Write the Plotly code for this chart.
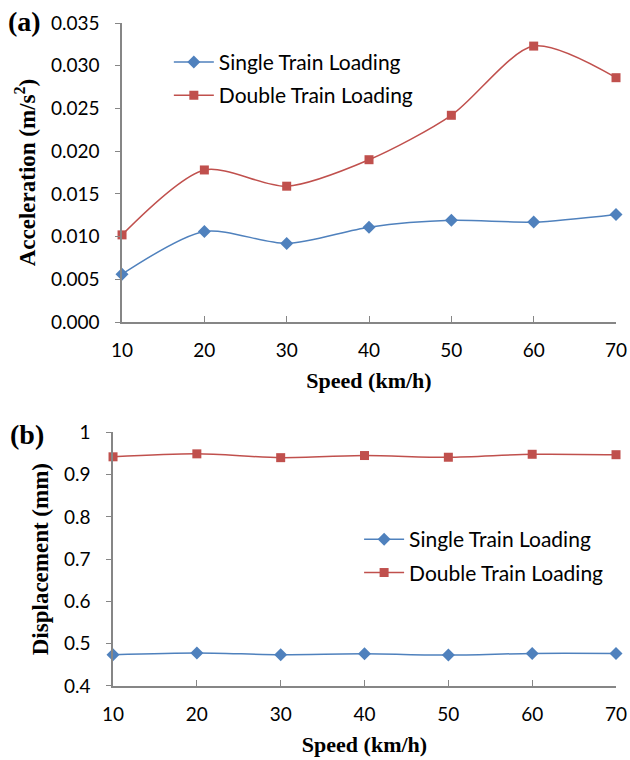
import plotly.graph_objects as go

# Train speed (km/h)
speed = [10, 20, 30, 40, 50, 60, 70]

# (a) peak acceleration (m/s^2)
accel_single = [0.0056, 0.0106, 0.0092, 0.0111, 0.0119, 0.0117, 0.0126]
accel_double = [0.0102, 0.0178, 0.0159, 0.0190, 0.0242, 0.0323, 0.0286]

# (b) peak displacement (mm)
disp_single = [0.474, 0.478, 0.474, 0.476, 0.473, 0.477, 0.477]
disp_double = [0.942, 0.949, 0.940, 0.945, 0.941, 0.948, 0.947]

names = ["Single Train Loading", "Double Train Loading"]
blue = "#4F81BD"
red = "#C0504D"
axis_grey = "#868686"
tick_font = dict(family="Lato, Open Sans, sans-serif", size=19, color="#000000")
xtitle_font = dict(family="Liberation Serif, Times New Roman, serif", size=22, color="#000000")
ytitle_font = dict(family="Liberation Serif, Times New Roman, serif", size=23, color="#000000")
legend_font = dict(family="Lato, Open Sans, sans-serif", size=21, color="#000000")
panel_font = dict(family="Liberation Serif, serif", size=28, color="#000000")

fig = go.Figure()


def add_series(y, name, color, symbol, msize, xa, ya, legend, group):
    fig.add_trace(go.Scatter(
        x=speed, y=y, name=name, mode="lines+markers",
        line=dict(color=color, width=1.5, shape="spline", smoothing=0.8),
        marker=dict(symbol=symbol, size=msize, color=color),
        xaxis=xa, yaxis=ya, legend=legend, legendgroup=group,
        cliponaxis=False, showlegend=True,
    ))


add_series(accel_single, names[0], blue, "diamond", 10, "x", "y", "legend", "a1")
add_series(accel_double, names[1], red, "square", 9, "x", "y", "legend", "a2")
add_series(disp_single, names[0], blue, "diamond", 10, "x2", "y2", "legend2", "b1")
add_series(disp_double, names[1], red, "square", 9, "x2", "y2", "legend2", "b2")

common_x = dict(
    range=[10, 70], dtick=10, tick0=10, showline=True, linecolor=axis_grey, linewidth=1.5,
    ticks="inside", ticklen=6, tickcolor=axis_grey, tickwidth=1.3, ticklabelstandoff=10,
    showgrid=False, zeroline=False, tickfont=tick_font, automargin=False,
)
common_y = dict(
    showline=True, linecolor=axis_grey, linewidth=1.5,
    ticks="outside", ticklen=5, tickcolor=axis_grey, tickwidth=1.3, ticklabelstandoff=12,
    showgrid=False, zeroline=False, tickfont=tick_font, automargin=False,
)

fig.update_layout(
    width=630, height=760, autosize=False,
    margin=dict(l=0, r=0, t=0, b=0, autoexpand=False),
    paper_bgcolor="white", plot_bgcolor="white",
    xaxis=dict(domain=[0.1937, 0.9778], anchor="y",
               title=dict(text="<b>Speed (km/h)</b>", font=xtitle_font, standoff=13),
               **common_x),
    yaxis=dict(domain=[0.5763, 0.9697], anchor="x", range=[0, 0.035], dtick=0.005,
               tickformat=".3f",
               title=dict(text="<b>Acceleration (m/s<sup>2</sup>)</b>", font=ytitle_font, standoff=9),
               **common_y),
    xaxis2=dict(domain=[0.1794, 0.9778], anchor="y2",
                title=dict(text="<b>Speed (km/h)</b>", font=xtitle_font, standoff=13),
                **common_x),
    yaxis2=dict(domain=[0.0974, 0.4312], anchor="x2", range=[0.4, 1.0], dtick=0.1,
                title=dict(text="<b>Displacement (mm)</b>", font=ytitle_font, standoff=9),
                **common_y),
    legend=dict(x=0.268, y=0.945, xanchor="left", yanchor="top", font=legend_font,
                bgcolor="rgba(0,0,0,0)", tracegroupgap=3, itemwidth=40),
    legend2=dict(x=0.57, y=0.317, xanchor="left", yanchor="top", font=legend_font,
                 bgcolor="rgba(0,0,0,0)", tracegroupgap=3, itemwidth=40),
    annotations=[
        dict(text="<b>(a)</b>", x=24 / 630, y=1 - 21 / 760, xref="paper", yref="paper",
             xanchor="center", yanchor="middle", showarrow=False, font=panel_font),
        dict(text="<b>(b)</b>", x=27 / 630, y=1 - 434 / 760, xref="paper", yref="paper",
             xanchor="center", yanchor="middle", showarrow=False, font=panel_font),
    ],
)

fig.write_html("out.html")
